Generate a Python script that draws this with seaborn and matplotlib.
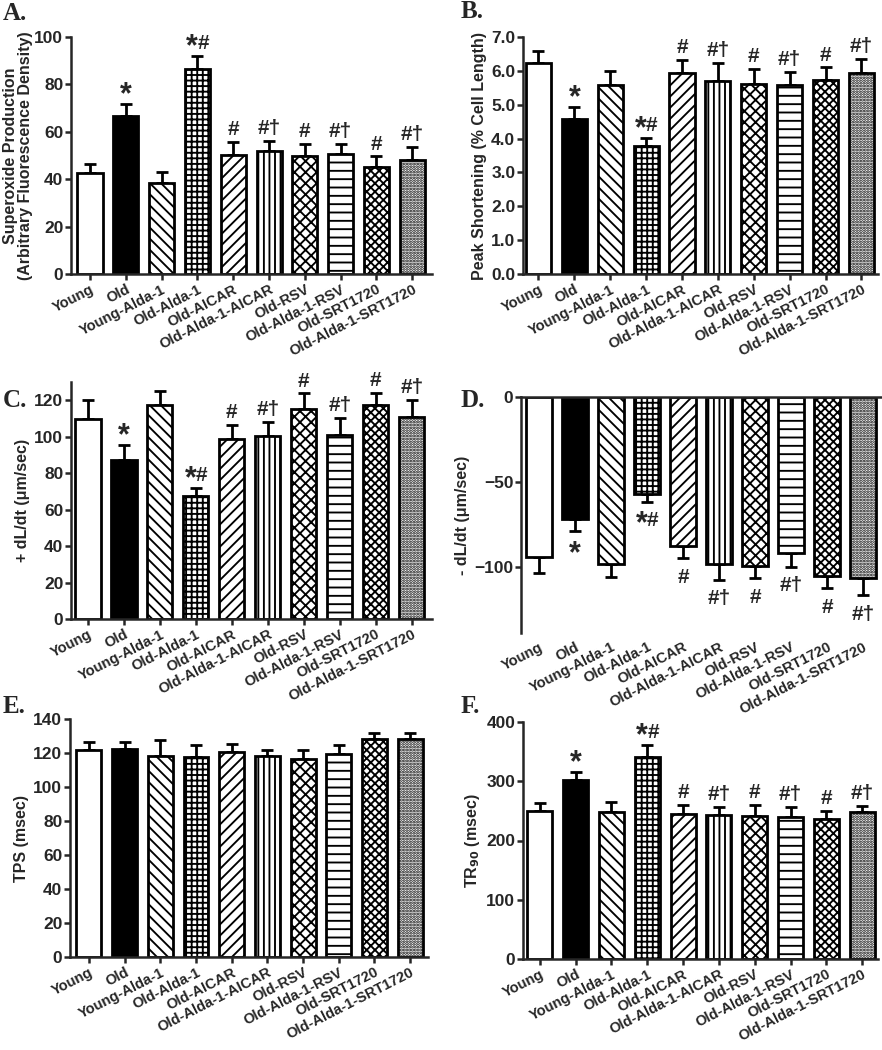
import numpy as np
import pandas as pd
import matplotlib
matplotlib.use('Agg')
import matplotlib.pyplot as plt
import seaborn as sns

# groups and styling per group
groups = ['Young', 'Old', 'Young-Alda-1', 'Old-Alda-1', 'Old-AICAR', 'Old-Alda-1-AICAR',
          'Old-RSV', 'Old-Alda-1-RSV', 'Old-SRT1720', 'Old-Alda-1-SRT1720']
hatches = ['', '', '\\\\\\', '+++', '///', '|||', 'xxx', '--', 'xxxx', '......']
faces = ['white', 'black', 'white', 'white', 'white', 'white', 'white', 'white', 'white', 'white']

# significance marks (same layout in A, B, C, D, F)
marks = ['', '*', '', '*#', '#', '#\u2020', '#', '#\u2020', '#', '#\u2020']
no_marks = [''] * 10

# A. superoxide production
superoxide = [42.8, 66.7, 38.5, 86.5, 50.1, 51.8, 50.0, 50.7, 45.2, 48.2]
superoxide_err = [3.5, 5.2, 4.5, 5.4, 5.7, 4.2, 5.0, 4.1, 4.4, 5.3]

# B. peak shortening
peak_short = [6.23, 4.57, 5.57, 3.79, 5.95, 5.70, 5.62, 5.58, 5.72, 5.95]
peak_short_err = [0.37, 0.35, 0.42, 0.24, 0.38, 0.52, 0.43, 0.40, 0.38, 0.40]

# C. +dL/dt
pos_dldt = [109.8, 87.2, 117.3, 67.5, 98.7, 100.3, 115.1, 101.2, 117.3, 110.7]
pos_dldt_err = [10.2, 8.2, 8.0, 4.5, 7.6, 7.7, 8.6, 9.1, 6.9, 9.3]

# D. -dL/dt
neg_dldt = [-94.1, -72.0, -98.4, -56.9, -87.6, -98.6, -99.8, -91.6, -105.5, -106.7]
neg_dldt_err = [9.4, 7.2, 7.5, 4.7, 7.5, 9.2, 7.1, 8.6, 7.2, 10.2]

# E. TPS
tps = [121.5, 122.5, 118.4, 117.6, 120.5, 118.4, 116.6, 119.5, 128.4, 128.4]
tps_err = [4.9, 3.9, 9.0, 6.9, 4.9, 3.6, 5.4, 5.3, 3.1, 3.1]

# F. TR90
tr90 = [249.8, 301.5, 248.0, 340.4, 245.3, 243.0, 241.9, 240.2, 236.3, 248.7]
tr90_err = [13.5, 14.1, 17.0, 20.8, 14.1, 13.5, 17.5, 16.3, 12.9, 10.1]

sns.set_style('ticks')
plt.rcParams['font.family'] = ['Liberation Sans', 'DejaVu Sans']
plt.rcParams['font.weight'] = 'bold'
plt.rcParams['axes.labelweight'] = 'bold'
plt.rcParams['hatch.linewidth'] = 1.35
plt.rcParams['axes.linewidth'] = 1.8

W, H = 882, 1050
fig = plt.figure(figsize=(W / 100, H / 100), dpi=100)

STAR_SIZE = 22
HASH_SIZE = 15


def box(left, right, top, bottom):
    return [left / W, 1 - bottom / H, (right - left) / W, (bottom - top) / H]


def put_mark(ax, x, y, m, down):
    # baseline offsets (points) for '#' part and the big star
    hash_off = -17.5 if down else 5.0
    star_off = hash_off - 4.5
    star = m.startswith('*')
    rest = m[1:] if star else m
    if star:
        ax.annotate('*', (x, y), xytext=(0.5 if rest else 0, star_off), textcoords='offset points',
                    ha='right' if rest else 'center', va='baseline', fontsize=STAR_SIZE,
                    fontweight='bold')
    if rest:
        ax.annotate(rest, (x, y), xytext=(0, hash_off), textcoords='offset points',
                    ha='left' if star else 'center', va='baseline', fontsize=HASH_SIZE,
                    fontweight='bold')


def draw_panel(ax, vals, errs, marks, ylabel, ylim, yticks, xlim, fmt=None, down=False):
    df = pd.DataFrame({'group': groups, 'value': vals})
    sns.barplot(data=df, x='group', y='value', order=groups, color='white', saturation=1,
                edgecolor='black', linewidth=2.0, width=0.7, errorbar=None, ax=ax)
    for bar, h, fc in zip(ax.containers[0], hatches, faces):
        bar.set_facecolor(fc)
        bar.set_hatch(h)
    xs = np.arange(len(groups))
    v = np.array(vals)
    e = np.array(errs)
    zero = np.zeros_like(e)
    yerr = [e, zero] if down else [zero, e]
    ax.errorbar(xs, v, yerr=yerr, fmt='none', ecolor='black', elinewidth=2.0,
                capsize=4.5, capthick=2.0, zorder=0.5)
    for x, val, err, m in zip(xs, v, e, marks):
        if m:
            put_mark(ax, x, val - err if down else val + err, m, down)

    ax.set_xlim(xlim)
    ax.set_ylim(ylim)
    ax.set_yticks(yticks)
    if fmt:
        ax.set_yticklabels([fmt.format(t) for t in yticks])
    ax.set_xticks(xs)
    ax.set_xticklabels(groups, rotation=27, ha='right', rotation_mode='anchor', fontsize=10.5)
    ax.set_xlabel('')
    ax.set_ylabel(ylabel, fontsize=11.5, labelpad=3)
    ax.tick_params(axis='y', labelsize=12.5, width=1.8, length=4, pad=1.5)
    ax.tick_params(axis='x', width=1.8, length=4, pad=2)
    sns.despine(ax=ax)
    if down:
        ax.spines['bottom'].set_visible(False)
        ax.spines['top'].set_visible(True)
        ax.tick_params(axis='x', length=0, pad=5)


ax_a = fig.add_axes(box(71, 432, 37, 274))
draw_panel(ax_a, superoxide, superoxide_err, marks,
           'Superoxide Production\n(Arbitrary Fluorescence Density)',
           (0, 100), [0, 20, 40, 60, 80, 100], (-0.53, 9.55))
ax_a.yaxis.label.set_linespacing(1.0)
ax_a.yaxis.labelpad = 1

ax_b = fig.add_axes(box(523, 878, 37, 274))
draw_panel(ax_b, peak_short, peak_short_err, marks, 'Peak Shortening (% Cell Length)',
           (0, 7), [0, 1, 2, 3, 4, 5, 6, 7], (-0.43, 9.46), fmt='{:.1f}')

ax_c = fig.add_axes(box(71, 432, 382, 619))
draw_panel(ax_c, pos_dldt, pos_dldt_err, marks, '+ dL/dt (\u03bcm/sec)',
           (0, 130), [0, 20, 40, 60, 80, 100, 120], (-0.47, 9.56))

ax_d = fig.add_axes(box(521, 881, 397, 633))
draw_panel(ax_d, neg_dldt, neg_dldt_err, marks, '- dL/dt (\u03bcm/sec)',
           (-139, 0), [-100, -50, 0], (-0.5, 9.5), down=True)

ax_e = fig.add_axes(box(70, 428, 719, 957))
draw_panel(ax_e, tps, tps_err, no_marks, 'TPS (msec)',
           (0, 140), [0, 20, 40, 60, 80, 100, 120, 140], (-0.53, 9.5))

ax_f = fig.add_axes(box(523, 878, 722, 959))
draw_panel(ax_f, tr90, tr90_err, marks, 'TR$_{90}$ (msec)',
           (0, 400), [0, 100, 200, 300, 400], (-0.47, 9.44))

letter_font = dict(family='Liberation Serif', fontweight='bold', fontsize=18, va='baseline')
for lx, ly, lt in [(3, 20, 'A.'), (461, 18, 'B.'), (3, 407, 'C.'),
                   (461, 407, 'D.'), (3, 713, 'E.'), (461, 713, 'F.')]:
    fig.text(lx / W, 1 - ly / H, lt, **letter_font)

fig.savefig('out.png', dpi=100)
